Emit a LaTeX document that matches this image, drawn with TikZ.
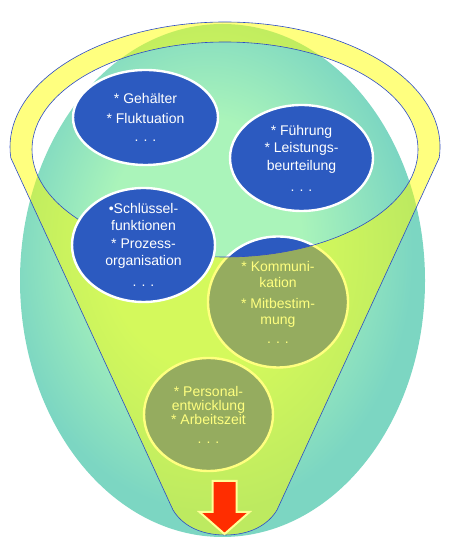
\documentclass[tikz,border=0pt]{standalone}
\usepackage{fontspec}
\setmainfont{Liberation Sans}
\usetikzlibrary{shapes.geometric}

\definecolor{eggLight}{RGB}{170,244,186}
\definecolor{eggDark}{RGB}{124,214,194}
\definecolor{topicBlue}{RGB}{44,90,192}
\definecolor{rimBlue}{RGB}{45,75,200}
\definecolor{funnelYellow}{RGB}{255,255,0}
\definecolor{arrowRed}{RGB}{255,45,0}
\definecolor{arrowRim}{RGB}{255,255,150}

\pgfdeclareradialshading{eggshade}{\pgfpoint{-3bp}{5bp}}{color(0bp)=(eggLight); color(12bp)=(eggLight); color(25bp)=(eggDark); color(50bp)=(eggDark)}

\newcommand{\moredots}{.\hspace{5pt}.\hspace{5pt}.}

\begin{document}
\begin{tikzpicture}[x=1pt, y=1pt,
  topic/.style={ellipse, draw=white, line width=2.4pt, fill=topicBlue, inner sep=0pt},
  txt/.style={text=white, align=center, font=\fontsize{14}{17.5}\selectfont},
  funnel/.style={draw=rimBlue, line width=0.6pt, fill=funnelYellow, fill opacity=0.5, even odd rule}]

\useasboundingbox (0,0) rectangle (450,545);

% Egg in the back
\node[ellipse, minimum width=405pt, minimum height=513pt, inner sep=0pt, shading=eggshade] (egg) at (222.5,264.5) {};

% Topics under the funnel
\node[topic, minimum width=140pt, minimum height=131pt,
  label={[txt, font=\fontsize{14}{16}\selectfont]center:{* Kommuni-\\kation\\[5pt]* Mitbestim-\\mung\\[3pt]\moredots}}] (talk) at (278,243) {};
\node[topic, minimum width=129pt, minimum height=113pt,
  label={[txt, font=\fontsize{14}{14}\selectfont]center:{* Personal-\\entwicklung\\* Arbeitszeit\\[5pt]\moredots}}] (staff) at (208.5,130.5) {};

% Funnel
\coordinate (rim) at (225,398);
\draw[funnel] ([shift={(185:215 and 125)}]rim) -- (173,35)
  .. controls (182,20) and (200,10) .. (225,10)
  .. controls (250,10) and (268,20) .. (277,35)
  -- ([shift={(-5:215 and 125)}]rim)
  arc[start angle=-5, end angle=185, x radius=215, y radius=125] -- cycle
  (225,395.5) ellipse [x radius=193, y radius=107.5];

% Topics in the opening
\node[topic, minimum width=145pt, minimum height=95pt,
  label={[txt, font=\fontsize{14}{16.5}\selectfont]center:{* Gehälter\\[4pt]* Fluktuation\\[1.5pt]\moredots}}] (pay) at (145.5,427.5) {};
\node[topic, minimum width=143pt, minimum height=106pt,
  label={[txt]center:{* Führung\\* Leistungs-\\beurteilung\\[3.5pt]\moredots}}] (lead) at (301.5,387) {};
\node[topic, minimum width=143pt, minimum height=114pt,
  label={[txt]center:{•Schlüssel-\\funktionen\\* Prozess-\\organisation\\[3.5pt]\moredots}}] (keys) at (143.5,300) {};

% Arrow out of the funnel
\draw[arrowRim, fill=arrowRed, line width=2pt] (212.5,64) -- (236.5,64) -- (236.5,33) -- (249.5,33)
  -- (224.5,11) -- (199.5,33) -- (212.5,33) -- cycle;

\end{tikzpicture}
\end{document}
